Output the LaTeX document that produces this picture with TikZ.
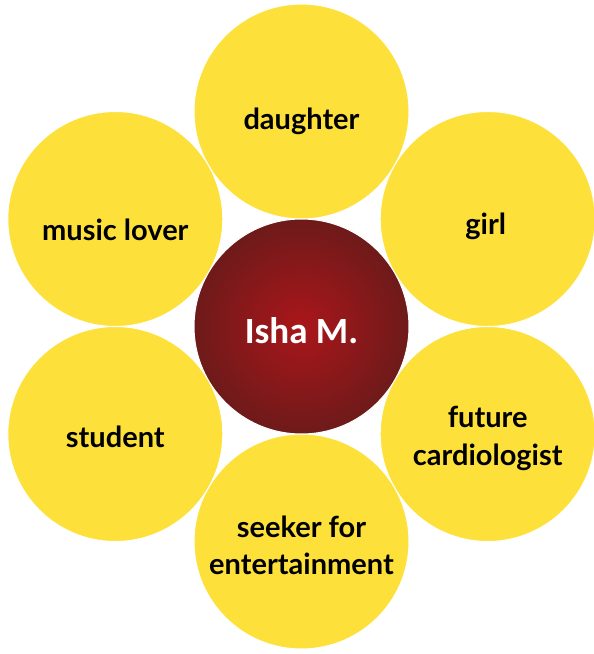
\documentclass[tikz,border=0pt]{standalone}
\usepackage{fontspec}
\newfontfamily\labfont{Lato}
\newfontfamily\centfont{Carlito}
\definecolor{petal}{RGB}{253,225,58}
\definecolor{coreIn}{RGB}{170,22,26}
\definecolor{coreOut}{RGB}{110,26,26}
\tikzset{
  petal/.style={circle, fill=petal, draw=white, line width=1pt, minimum size=215pt, inner sep=0pt},
  core/.style={circle, shading=radial, inner color=coreIn, outer color=coreOut, draw=white, line width=1pt,
    minimum size=215pt, inner sep=0pt},
  lab/.style={inner sep=0pt, align=center, font=\labfont\bfseries\fontsize{29}{37.5}\selectfont, text=black},
  corelab/.style={inner sep=0pt, font=\centfont\bfseries\fontsize{37}{44}\selectfont, text=white}
}
\begin{document}
\begin{tikzpicture}[x=1pt,y=-1pt]
\useasboundingbox (0,0) rectangle (594,654);
\node[petal] (daughter) at (301.5,111.5) {};
\node[petal] (girl) at (487.7,219) {};
\node[petal] (cardio) at (487.7,434) {};
\node[petal] (seeker) at (301.5,541.5) {};
\node[petal] (student) at (115.3,434) {};
\node[petal] (music) at (115.3,219) {};
\node[core] (isha) at (301.5,326.5) {};
\node[lab] (daughterT) at ([yshift=-9.5pt]daughter.center) {daughter};
\node[lab] (girlT) at ([xshift=-2pt,yshift=-7pt]girl.center) {girl};
\node[lab] (cardioT) at ([yshift=-4.5pt]cardio.center) {future\\cardiologist};
\node[lab] (seekerT) at ([yshift=-4pt]seeker.center) {seeker for\\entertainment};
\node[lab] (studentT) at ([yshift=-2.5pt]student.center) {student};
\node[lab] (musicT) at ([yshift=-10.5pt]music.center) {music lover};
\node[corelab] (ishaT) at ([yshift=-4.5pt]isha.center) {Isha M.};
\end{tikzpicture}
\end{document}
